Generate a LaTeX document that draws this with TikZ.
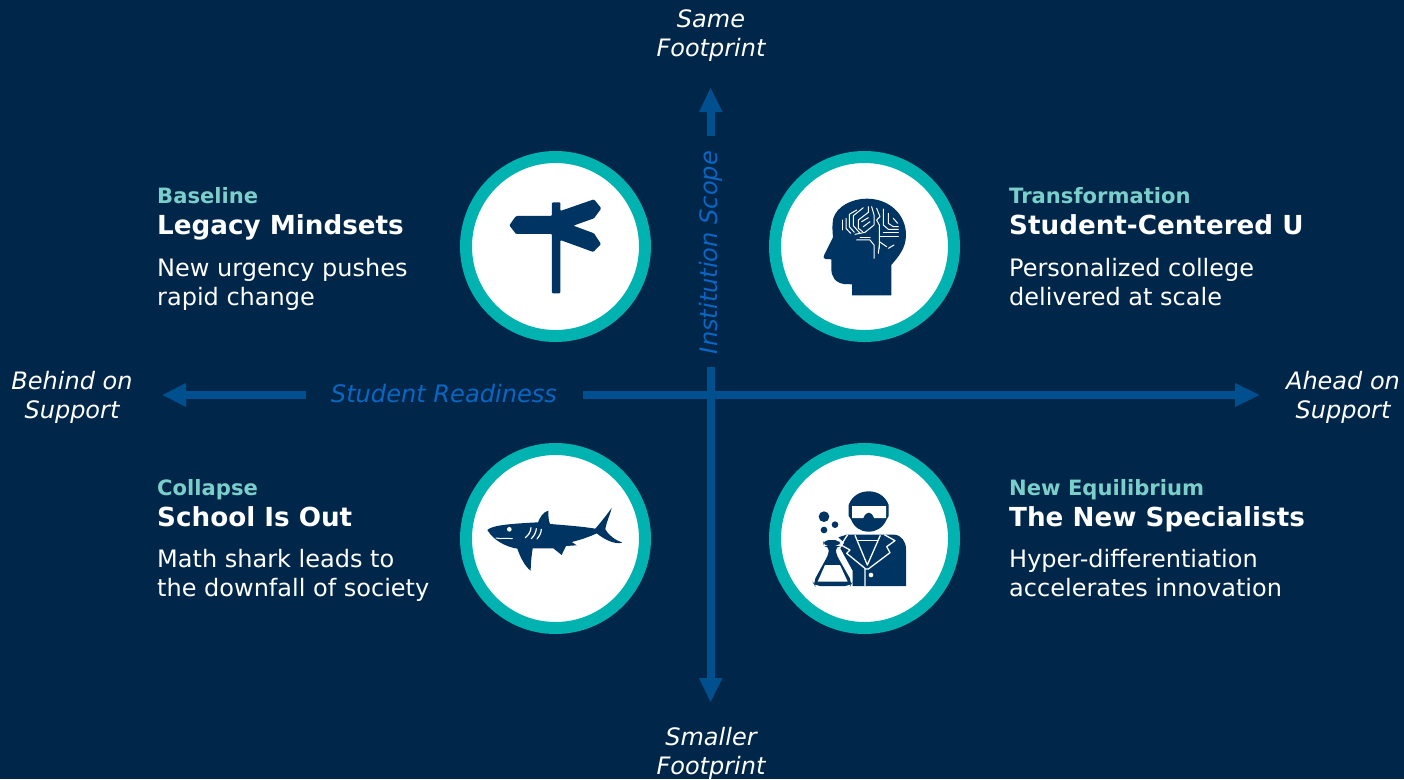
\documentclass[tikz,border=0pt]{standalone}
\usepackage{fontspec}
\setmainfont{DejaVu Sans}
\definecolor{bgc}{HTML}{00274A}
\definecolor{axisc}{HTML}{004F8F}
\definecolor{readc}{HTML}{0A66C2}
\definecolor{ringc}{HTML}{00B2B0}
\definecolor{tagc}{HTML}{7BCFCB}
\definecolor{iconc}{HTML}{003462}
\tikzset{
 x=1pt,y=-1pt,
 ring/.style={circle,draw=ringc,line width=12pt,fill=white,minimum size=179pt,inner sep=0pt},
 tag/.style={anchor=base west,text=tagc,font=\fontsize{21.1}{24}\selectfont\bfseries,inner sep=0pt},
 headline/.style={anchor=base west,text=white,font=\fontsize{26.2}{30}\selectfont\bfseries,inner sep=0pt},
 body/.style={anchor=north west,text=white,font=\fontsize{24}{29}\selectfont,align=left,inner sep=0pt},
 end/.style={text=white,font=\fontsize{24}{29}\selectfont\itshape,align=center,inner sep=0pt},
 axisl/.style={line width=8pt,draw=axisc},
 ahead/.style={fill=axisc},
 axname/.style={text=readc,font=\fontsize{24.1}{29}\selectfont\itshape,inner sep=0pt},
 ic/.style={fill=iconc},
 wl/.style={draw=white,line width=1pt}
}
\begin{document}
\begin{tikzpicture}
\useasboundingbox[fill=bgc] (0,0) rectangle (1404,779);
% axes
\coordinate (hl) at (306,395); \coordinate (hr) at (583,395); \coordinate (he) at (1240,395);
\coordinate (hs) at (184,395);
\coordinate (vt) at (710.5,110); \coordinate (vb) at (710.5,136); \coordinate (vc) at (710.5,367); \coordinate (ve) at (710.5,680);
\draw[axisl] (hs) -- (hl);
\draw[axisl] (hr) -- (he);
\draw[axisl] (vt) -- (vb);
\draw[axisl] (vc) -- (ve);
\fill[ahead] (162.5,395) -- (186,383) -- (186,407) -- cycle;
\fill[ahead] (1259.5,395) -- (1235,383) -- (1235,407) -- cycle;
\fill[ahead] (710.5,88) -- (699,112) -- (722.5,112) -- cycle;
\fill[ahead] (710.5,702) -- (699,678) -- (722.5,678) -- cycle;
\node[axname] (sr) at (444,394) {Student Readiness};
\node[axname,rotate=90] (is) at (711,252.5) {Institution Scope};
\node[end] (t1) at (711,35.5) {Same\\Footprint};
\node[end] (t2) at (711,753.5) {Smaller\\Footprint};
\node[end] (t3) at (72,397.5) {Behind on\\Support};
\node[end] (t4) at (1343,397.5) {Ahead on\\Support};
% circles
\node[ring] (c1) at (555.5,246.5) {};
\node[ring] (c2) at (864.5,246.5) {};
\node[ring] (c3) at (555.5,538.5) {};
\node[ring] (c4) at (864.5,538.5) {};
% signpost
\begin{scope}[shift={(460,150)},x=.3333pt,y=-.3333pt]
\fill[ic,rounded corners=1pt] (276,157) -- (301,157) -- (301,183) -- (402,148) -- (424,175) -- (402,205) -- (340,227) -- (402,250) -- (423,282) -- (400,306) -- (301,270) -- (301,430) -- (276,430) -- (276,252) -- (168,252) -- (148,226) -- (168,198) -- (276,198) -- cycle;
\end{scope}
% head
\begin{scope}[shift={(770,150)},x=.3333pt,y=-.3333pt]
\fill[ic] (246,436) -- (246,403) -- (222,402) .. controls (195,398) and (184,380) .. (184,355) -- (184,328) -- (166,327) .. controls (160,326) and (159,320) .. (163,314) -- (189,262) .. controls (187,240) and (186,225) .. (190,205) .. controls (200,170) and (245,146) .. (290,146) .. controls (360,146) and (408,195) .. (408,255) .. controls (408,295) and (385,320) .. (364,345) -- (364,436) -- cycle;
\end{scope}
% brain traces
\begin{scope}[shift={(820,195)},x=.3333pt,y=-.3333pt]
\begin{scope}[wl,line cap=round,line join=round]
\draw (68,75) -- (68,105);
\draw (78,70) -- (78,100) -- (92,115);
\draw (110,45) -- (88,58) -- (88,95) -- (103,112);
\draw (130,38) -- (100,62) -- (100,92) -- (120,115);
\draw (145,35) -- (145,52) -- (115,75) -- (115,100) -- (128,110);
\draw (155,35) -- (162,60) -- (162,90) -- (135,112) -- (105,118);
\draw (125,80) -- (145,68);
\draw (130,95) -- (150,80);
\draw (170,40) -- (180,65) -- (170,75) -- (178,90) -- (178,160);
\draw (190,42) -- (190,90) -- (205,103) -- (235,103);
\draw (205,55) -- (205,85) -- (220,95) -- (235,95);
\draw (220,70) -- (233,85);
\draw (178,125) -- (235,125);
\draw (190,112) -- (235,112);
\draw (178,140) -- (200,155);
\draw (205,160) -- (222,150);
\draw (110,135) -- (150,135) -- (162,150) -- (162,190);
\draw (120,128) -- (150,128);
\draw (178,150) -- (175,175);
\end{scope}
\end{scope}
% shark
\begin{scope}[shift={(460,440)},x=.3333pt,y=-.3333pt]
\fill[ic] (82,270) .. controls (95,258) and (130,252) .. (234,247) .. controls (240,232) and (250,215) .. (265,212) .. controls (265,225) and (265,240) .. (270,252) .. controls (320,256) and (370,260) .. (406,266) .. controls (420,250) and (440,225) .. (455,204) .. controls (450,225) and (438,250) .. (436,268) .. controls (445,285) and (465,300) .. (487,308) .. controls (465,314) and (435,300) .. (410,280) .. controls (390,290) and (360,300) .. (335,306) -- (350,316) -- (318,318) -- (305,345) -- (280,325) -- (218,325) .. controls (215,345) and (212,370) .. (212,392) .. controls (195,380) and (180,350) .. (172,326) .. controls (135,320) and (100,300) .. (82,270) -- cycle;
\fill[white] (148,268) circle (7);
\draw[white,line width=1pt,line cap=round] (108,294) .. controls (125,298) and (140,293) .. (157,296);
\draw[white,line width=1.2pt,line cap=round] (213,263) .. controls (212,275) and (206,285) .. (196,293);
\draw[white,line width=1.2pt,line cap=round] (229,266) .. controls (228,278) and (222,288) .. (214,296);
\draw[white,line width=1.2pt,line cap=round] (244,268) .. controls (243,280) and (238,290) .. (231,297);
\end{scope}
% scientist head
\begin{scope}[shift={(770,440)},x=.3333pt,y=-.3333pt]
\fill[ic] (296,154) .. controls (325,154) and (347,170) .. (356,195) -- (356,228) -- (350,238) .. controls (340,262) and (320,275) .. (296,275) .. controls (272,275) and (252,262) .. (243,238) -- (236,228) -- (236,195) .. controls (245,170) and (267,154) .. (296,154) -- cycle;
\fill[white] (246,198) -- (348,198) -- (348,234) -- (312,234) .. controls (305,212) and (288,212) .. (280,234) -- (246,234) -- cycle;
\fill[ic] (162,230) circle (16);
\fill[ic] (195,254) circle (10);
\fill[ic] (162,270) circle (10);
\end{scope}
% scientist coat and flask
\begin{scope}[shift={(805,500)},x=.3333pt,y=-.3333pt]
\fill[ic] (100,112) -- (125,104) -- (268,104) .. controls (290,106) and (303,125) .. (303,148) -- (303,258) -- (143,258) -- (143,212) -- (106,145) -- (118,128) -- cycle;
\begin{scope}[draw=white,line width=1.3pt,line join=round]
\draw (128,104) -- (108,135) -- (135,150) -- (125,160) -- (180,205) -- (180,258);
\draw (238,104) -- (270,122) -- (245,140) -- (255,158) -- (190,207) -- (180,207);
\draw (150,106) -- (187,195) -- (226,106);
\draw (157,122) -- (218,122);
\end{scope}
\fill[white] (198,225) circle (7);
\fill[ic,rounded corners=5pt] (55,120) -- (105,120) -- (105,138) -- (92,138) -- (92,160) -- (142,248) -- (136,258) -- (30,258) -- (24,248) -- (72,160) -- (72,138) -- (55,138) -- cycle;
\fill[white] (60,195) -- (105,195) -- (128,245) -- (38,245) -- cycle;
\end{scope}
% text
\node[tag] (a1) at (157,203) {Baseline};
\node[headline] (b1) at (157,234) {Legacy Mindsets};
\node[body] (d1) at (157,258) {New urgency pushes\\rapid change};
\node[tag] (a2) at (1009,203) {Transformation};
\node[headline] (b2) at (1009,234) {Student-Centered U};
\node[body] (d2) at (1009,258) {Personalized college\\delivered at scale};
\node[tag] (a3) at (157,495) {Collapse};
\node[headline] (b3) at (157,526) {School Is Out};
\node[body] (d3) at (157,549.5) {Math shark leads to\\the downfall of society};
\node[tag] (a4) at (1009,495) {New Equilibrium};
\node[headline] (b4) at (1009,526) {The New Specialists};
\node[body] (d4) at (1009,549.5) {Hyper-differentiation\\accelerates innovation};
\end{tikzpicture}
\end{document}
